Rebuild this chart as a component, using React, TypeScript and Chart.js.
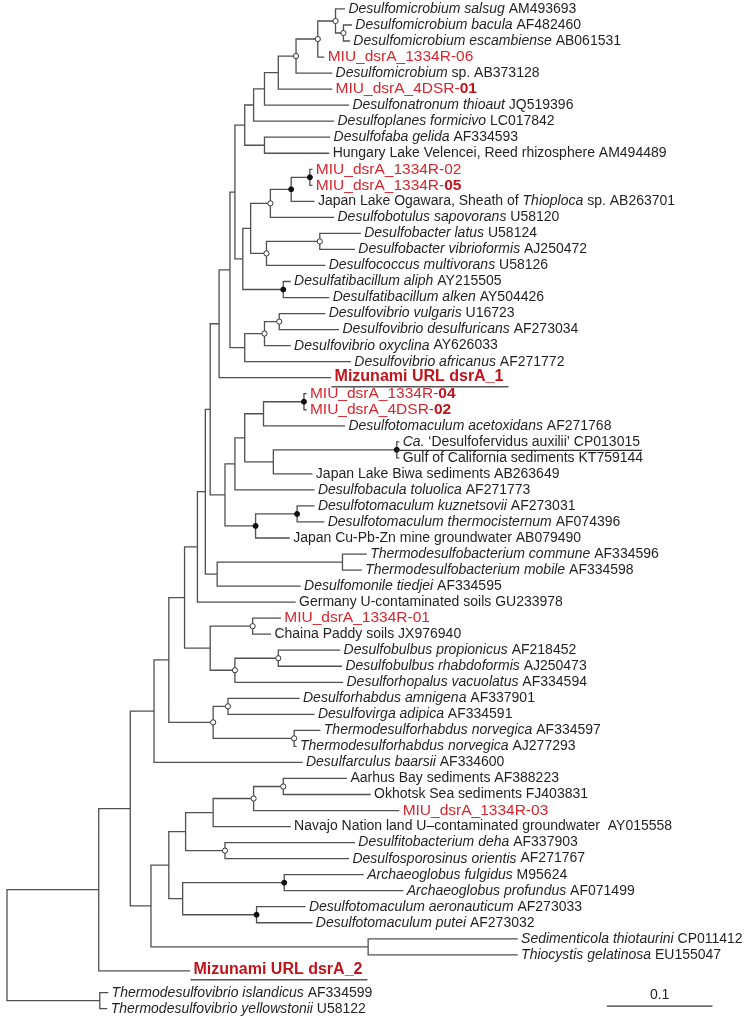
import React, { useEffect, useRef } from "react";
import { Chart, registerables } from "chart.js";

Chart.register(...registerables);

// ---------- leaves (top to bottom) ----------
const leafLabels: string[] = [
  "*Desulfomicrobium salsug* AM493693",
  "*Desulfomicrobium bacula* AF482460",
  "*Desulfomicrobium escambiense* AB061531",
  "MIU_dsrA_1334R-06",
  "*Desulfomicrobium* sp. AB373128",
  "MIU_dsrA_4DSR-**01**",
  "*Desulfonatronum thioaut* JQ519396",
  "*Desulfoplanes formicivo* LC017842",
  "*Desulfofaba gelida* AF334593",
  "Hungary Lake Velencei, Reed rhizosphere AM494489",
  "MIU_dsrA_1334R-02",
  "MIU_dsrA_1334R-**05**",
  "Japan Lake Ogawara, Sheath of *Thioploca* sp. AB263701",
  "*Desulfobotulus sapovorans* U58120",
  "*Desulfobacter latus* U58124",
  "*Desulfobacter vibrioformis* AJ250472",
  "*Desulfococcus multivorans* U58126",
  "*Desulfatibacillum aliph* AY215505",
  "*Desulfatibacillum alken* AY504426",
  "*Desulfovibrio vulgaris* U16723",
  "*Desulfovibrio desulfuricans* AF273034",
  "*Desulfovibrio oxyclina* AY626033",
  "*Desulfovibrio africanus* AF271772",
  "Mizunami URL dsrA_1",
  "MIU_dsrA_1334R-**04**",
  "MIU_dsrA_4DSR-**02**",
  "*Desulfotomaculum acetoxidans* AF271768",
  "*Ca.* \u2018Desulfofervidus auxilii\u2019 CP013015",
  "Gulf of California sediments KT759144",
  "Japan Lake Biwa sediments AB263649",
  "*Desulfobacula toluolica* AF271773",
  "*Desulfotomaculum kuznetsovii* AF273031",
  "*Desulfotomaculum thermocisternum* AF074396",
  "Japan Cu-Pb-Zn mine groundwater AB079490",
  "*Thermodesulfobacterium commune* AF334596",
  "*Thermodesulfobacterium mobile* AF334598",
  "*Desulfomonile tiedjei* AF334595",
  "Germany U-contaminated soils GU233978",
  "MIU_dsrA_1334R-01",
  "Chaina Paddy soils JX976940",
  "*Desulfobulbus propionicus* AF218452",
  "*Desulfobulbus rhabdoformis* AJ250473",
  "*Desulforhopalus vacuolatus* AF334594",
  "*Desulforhabdus amnigena* AF337901",
  "*Desulfovirga adipica* AF334591",
  "*Thermodesulforhabdus norvegica* AF334597",
  "*Thermodesulforhabdus norvegica* AJ277293",
  "*Desulfarculus baarsii* AF334600",
  "Aarhus Bay sediments AF388223",
  "Okhotsk Sea sediments FJ403831",
  "MIU_dsrA_1334R-03",
  "Navajo Nation land U\u2013contaminated groundwater  AY015558",
  "*Desulfitobacterium deha* AF337903",
  "*Desulfosporosinus orientis* AF271767",
  "*Archaeoglobus fulgidus* M95624",
  "*Archaeoglobus profundus* AF071499",
  "*Desulfotomaculum aeronauticum* AF273033",
  "*Desulfotomaculum putei* AF273032",
  "*Sedimenticola thiotaurini* CP011412",
  "*Thiocystis gelatinosa* EU155047",
  "Mizunami URL dsrA_2",
  "*Thermodesulfovibrio islandicus* AF334599",
  "*Thermodesulfovibrio yellowstonii* U58122",
];

// n = normal, r = red isolate, m = Mizunami URL clone, u = underlined
const leafKinds: string[] = [
  "n", "n", "n", "r", "n", "r", "n", "n", "n", "n",
  "r", "r", "n", "n", "n", "n", "n", "n", "n", "n",
  "n", "n", "n", "m", "r", "r", "n", "u", "n", "n",
  "n", "n", "n", "n", "n", "n", "n", "n", "r", "n",
  "n", "n", "n", "n", "n", "n", "n", "n", "n", "n",
  "r", "n", "n", "n", "n", "n", "n", "n", "n", "n",
  "m", "n", "n",
];

// distance from root (substitutions per site)
const leafDepths: number[] = [
  0.3196, 0.3262, 0.3243, 0.3000, 0.3075, 0.3075, 0.3234, 0.3093, 0.3056, 0.3047,
  0.2888, 0.2888, 0.2907, 0.3093, 0.3346, 0.3290, 0.3009, 0.2682, 0.3047, 0.3009,
  0.3140, 0.2682, 0.3252, 0.3065, 0.2832, 0.2832, 0.3196, 0.3710, 0.3710, 0.2888,
  0.2907, 0.2907, 0.3000, 0.2673, 0.3402, 0.3355, 0.2776, 0.2729, 0.2589, 0.2495,
  0.3150, 0.3168, 0.3178, 0.2766, 0.2907, 0.2963, 0.2738, 0.2794, 0.3215, 0.3439,
  0.3710, 0.2682, 0.3290, 0.3234, 0.3374, 0.3748, 0.2822, 0.2888, 0.4832, 0.4832,
  0.1729, 0.0953, 0.0944,
];

// ---------- internal nodes ----------
const nodeNames: string[] = [
  "nBE", "nA", "nB", "nC", "nD", "nE", "nF", "nH", "nFH",
  "nMIU25", "nOg", "nBot", "nDbac", "nDcoc", "nV4", "nDat", "nV5", "nV2",
  "nDv1", "nDv2", "nV8", "nV3", "nV6",
  "nMIU04", "nAce", "nCa", "nBiwa", "nK", "nL", "nKuz", "nCu", "nN", "nV7",
  "nTherm", "nM", "nV9", "nV13",
  "nMIU01", "nBulb", "nRhop", "nX208", "nX182",
  "nRhab", "nTnor", "nX211", "nX166", "nX151",
  "nAar", "nMIU03", "nNav", "nDfito", "nX183b", "nArch", "nDtm", "nX180", "nX166b",
  "nSed", "nX148", "nX127", "nX95", "nTdv", "root",
];

const nodeChildren: (string | number)[][] = [
  [1, 2], [0, "nBE"], ["nA", 3], ["nB", 4], ["nC", 5], ["nD", 6], ["nE", 7], [8, 9], ["nF", "nH"],
  [10, 11], ["nMIU25", 12], ["nOg", 13], [14, 15], ["nDbac", 16], ["nBot", "nDcoc"], [17, 18], ["nV4", "nDat"], ["nFH", "nV5"],
  [19, 20], ["nDv1", 21], ["nDv2", 22], ["nV2", "nV8"], ["nV3", 23],
  [24, 25], ["nMIU04", 26], [27, 28], ["nCa", 29], ["nAce", "nBiwa"], ["nK", 30], [31, 32], ["nKuz", 33], ["nL", "nCu"], ["nV6", "nN"],
  [34, 35], ["nTherm", 36], ["nV7", "nM"], ["nV9", 37],
  [38, 39], [40, 41], ["nBulb", 42], ["nMIU01", "nRhop"], ["nV13", "nX208"],
  [43, 44], [45, 46], ["nRhab", "nTnor"], ["nX182", "nX211"], ["nX166", 47],
  [48, 49], ["nAar", 50], ["nMIU03", 51], [52, 53], ["nNav", "nDfito"], [54, 55], [56, 57], ["nArch", "nDtm"], ["nX183b", "nX180"],
  [58, 59], ["nX166b", "nSed"], ["nX151", "nX148"], ["nX127", 60], [61, 62], ["nX95", "nTdv"],
];

const nodeDepths: number[] = [
  0.3187, 0.3112, 0.2944, 0.2738, 0.2570, 0.2439, 0.2336, 0.2439, 0.2252,
  0.2869, 0.2692, 0.2495, 0.2963, 0.2458, 0.2308, 0.2617, 0.2234, 0.2159,
  0.2579, 0.2439, 0.2252, 0.2112, 0.2009,
  0.2813, 0.2430, 0.3692, 0.2523, 0.2252, 0.2159, 0.2748, 0.2355, 0.2065, 0.1925,
  0.3178, 0.1991, 0.1879, 0.1804,
  0.2327, 0.2570, 0.2159, 0.1925, 0.1682,
  0.2093, 0.2720, 0.1953, 0.1533, 0.1393,
  0.2617, 0.2336, 0.1953, 0.2065, 0.1692, 0.2626, 0.2364, 0.1664, 0.1533,
  0.3421, 0.1364, 0.1168, 0.0869, 0.0879, 0.0,
];

// o = open circle (support), f = filled circle (strong support), "" = none
const nodeMarks: string[] = [
  "o", "o", "o", "o", "", "", "", "", "",
  "f", "f", "o", "o", "o", "", "f", "", "",
  "o", "o", "", "", "",
  "f", "", "f", "", "", "", "f", "f", "", "",
  "", "", "", "",
  "o", "o", "o", "", "",
  "o", "o", "o", "", "",
  "o", "o", "", "o", "", "f", "f", "", "",
  "", "", "", "", "", "",
];

const scaleBarLength = 0.1;
const scaleBarStart = 0.5682;
const scaleBarText = "0.1";

// layout
const GAP_AFTER_ROW = 60;
const GAP_SIZE = 0.36;
const PX_PER_UNIT = 1070;
const ROW_PX = 16.19;
const TOP_PX = 4;
const W = 750;
const H = 1021;
const FONT = '"Liberation Sans", Arial, Helvetica, sans-serif';
const LINE_COLOR = "#505050";
const TEXT_COLOR = "#231f20";
const RED = "#d8262e";
const DARK_RED = "#c0131b";

function leafRow(i: number): number {
  return i + (i > GAP_AFTER_ROW ? GAP_SIZE : 0);
}

type Part = { text: string; italic: boolean; bold: boolean };
function parseLabel(s: string): Part[] {
  const out: Part[] = [];
  const pieces = s.split(/(\*\*[^*]+\*\*|\*[^*]+\*)/g);
  for (const p of pieces) {
    if (!p) continue;
    if (p.startsWith("**")) out.push({ text: p.slice(2, -2), italic: false, bold: true });
    else if (p.startsWith("*")) out.push({ text: p.slice(1, -1), italic: true, bold: false });
    else out.push({ text: p, italic: false, bold: false });
  }
  return out;
}

export default function App() {
  const ref = useRef<HTMLCanvasElement>(null);

  useEffect(() => {
    document.body.style.margin = "0";
    const canvas = ref.current;
    if (!canvas) return;

    const idx = new Map<string, number>();
    nodeNames.forEach((n, k) => idx.set(n, k));
    const yCache = new Map<string, number>();
    const yOf = (r: string | number): number => {
      if (typeof r === "number") return leafRow(r);
      if (yCache.has(r)) return yCache.get(r)!;
      const ch = nodeChildren[idx.get(r)!];
      const ys = ch.map(yOf);
      const v = (Math.min(...ys) + Math.max(...ys)) / 2;
      yCache.set(r, v);
      return v;
    };
    const xOf = (r: string | number): number =>
      typeof r === "number" ? leafDepths[r] : nodeDepths[idx.get(r)!];

    const GAP = { x: NaN, y: NaN };
    const branches: { x: number; y: number }[] = [];
    const openPts: { x: number; y: number }[] = [];
    const filledPts: { x: number; y: number }[] = [];
    nodeNames.forEach((name, k) => {
      const ch = nodeChildren[k];
      const xn = nodeDepths[k];
      const ys = ch.map(yOf);
      branches.push({ x: xn, y: Math.min(...ys) }, { x: xn, y: Math.max(...ys) }, GAP);
      ch.forEach((c) => {
        const yc = yOf(c);
        branches.push({ x: xn, y: yc }, { x: xOf(c), y: yc }, GAP);
      });
      const p = { x: xn, y: yOf(name) };
      if (nodeMarks[k] === "o") openPts.push(p);
      if (nodeMarks[k] === "f") filledPts.push(p);
    });

    const scaleRow = (1011 - TOP_PX) / ROW_PX;
    const scaleLabelRow = (1000 - TOP_PX) / ROW_PX;

    const labelPlugin = {
      id: "leafLabels",
      afterDraw(chart: any) {
        const ctx: CanvasRenderingContext2D = chart.ctx;
        const xs = chart.scales.x;
        const ys = chart.scales.y;
        ctx.save();
        ctx.textBaseline = "middle";
        ctx.textAlign = "left";
        leafLabels.forEach((lab, i) => {
          const kind = leafKinds[i];
          const tipX = xs.getPixelForValue(leafDepths[i]);
          const by = ys.getPixelForValue(leafRow(i));
          let x = tipX + 4;
          const x0 = x;
          let y = by;
          if (kind === "m") y = by - 1;
          for (const p of parseLabel(lab)) {
            if (kind === "r") {
              ctx.font = `${p.bold ? "bold " : ""}15.5px ${FONT}`;
              ctx.fillStyle = p.bold ? DARK_RED : RED;
            } else if (kind === "m") {
              ctx.font = `bold 16px ${FONT}`;
              ctx.fillStyle = DARK_RED;
            } else {
              ctx.font = `${p.italic ? "italic " : ""}14px ${FONT}`;
              ctx.fillStyle = TEXT_COLOR;
            }
            ctx.fillText(p.text, x, y);
            x += ctx.measureText(p.text).width;
          }
          if (kind === "m") {
            ctx.strokeStyle = "#555";
            ctx.lineWidth = 1.5;
            ctx.beginPath();
            ctx.moveTo(x0 - 3, by + 9);
            ctx.lineTo(x + 5, by + 9);
            ctx.stroke();
          }
          if (kind === "u") {
            ctx.strokeStyle = "#333";
            ctx.lineWidth = 1.2;
            ctx.beginPath();
            ctx.moveTo(tipX - 2, by + 8.5);
            ctx.lineTo(x + 2, by + 8.5);
            ctx.stroke();
          }
        });
        ctx.font = `14px ${FONT}`;
        ctx.fillStyle = TEXT_COLOR;
        ctx.textAlign = "center";
        ctx.fillText(
          scaleBarText,
          xs.getPixelForValue(scaleBarStart + scaleBarLength / 2),
          ys.getPixelForValue(scaleLabelRow)
        );
        ctx.restore();
      },
    };

    const xMin = -2 / PX_PER_UNIT;
    const yMin = -TOP_PX / ROW_PX;

    const chart = new Chart(canvas, {
      type: "line",
      data: {
        datasets: [
          {
            data: openPts,
            showLine: false,
            pointRadius: 2.6,
            pointBackgroundColor: "#ffffff",
            pointBorderColor: "#333333",
            pointBorderWidth: 1,
            order: 0,
          },
          {
            data: filledPts,
            showLine: false,
            pointRadius: 2.5,
            pointBackgroundColor: "#111111",
            pointBorderColor: "#111111",
            pointBorderWidth: 1,
            order: 0,
          },
          {
            data: branches,
            showLine: true,
            spanGaps: false,
            borderColor: LINE_COLOR,
            borderWidth: 1.3,
            borderCapStyle: "square",
            pointRadius: 0,
            pointHitRadius: 0,
            tension: 0,
            order: 1,
          },
          {
            data: [
              { x: scaleBarStart, y: scaleRow },
              { x: scaleBarStart + scaleBarLength, y: scaleRow },
            ],
            showLine: true,
            borderColor: "#333333",
            borderWidth: 1.3,
            pointRadius: 0,
            order: 1,
          },
        ] as any,
      },
      options: {
        animation: false,
        responsive: false,
        devicePixelRatio: 1,
        events: [],
        layout: { padding: 0 },
        plugins: { legend: { display: false }, tooltip: { enabled: false } },
        scales: {
          x: { type: "linear", display: false, min: xMin, max: xMin + W / PX_PER_UNIT },
          y: { type: "linear", display: false, reverse: true, min: yMin, max: yMin + H / ROW_PX },
        },
      },
      plugins: [labelPlugin],
    });

    return () => chart.destroy();
  }, []);

  return (
    <div style={{ width: W, height: H, background: "#fff" }}>
      <canvas ref={ref} width={W} height={H} style={{ display: "block" }} />
    </div>
  );
}
